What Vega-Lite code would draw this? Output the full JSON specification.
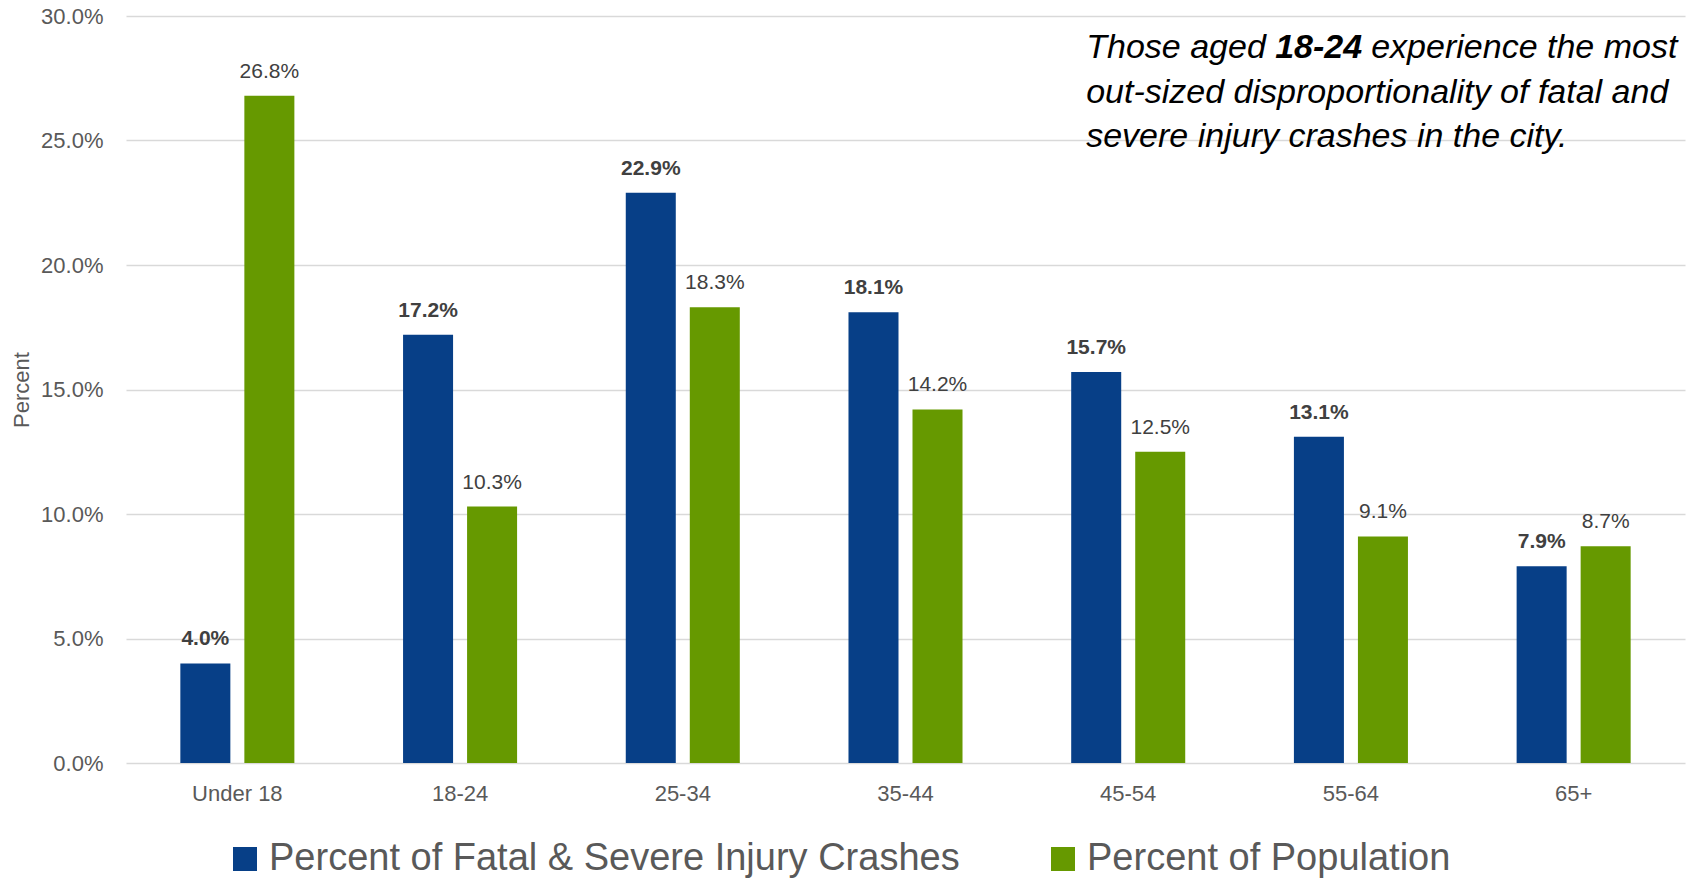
{
  "$schema": "https://vega.github.io/schema/vega-lite/v6.json",
  "width": 1559,
  "height": 747,
  "autosize": {"type": "none"},
  "padding": {"left": 126, "top": 16, "right": 6, "bottom": 117},
  "background": "white",
  "config": {"font": "Liberation Sans", "view": {"stroke": null}},
  "datasets": {
    "bars": [
      {"age": "Under 18", "series": "Percent of Fatal & Severe Injury Crashes", "value": 0.040},
      {"age": "18-24", "series": "Percent of Fatal & Severe Injury Crashes", "value": 0.172},
      {"age": "25-34", "series": "Percent of Fatal & Severe Injury Crashes", "value": 0.229},
      {"age": "35-44", "series": "Percent of Fatal & Severe Injury Crashes", "value": 0.181},
      {"age": "45-54", "series": "Percent of Fatal & Severe Injury Crashes", "value": 0.157},
      {"age": "55-64", "series": "Percent of Fatal & Severe Injury Crashes", "value": 0.131},
      {"age": "65+", "series": "Percent of Fatal & Severe Injury Crashes", "value": 0.079},
      {"age": "Under 18", "series": "Percent of Population", "value": 0.268},
      {"age": "18-24", "series": "Percent of Population", "value": 0.103},
      {"age": "25-34", "series": "Percent of Population", "value": 0.183},
      {"age": "35-44", "series": "Percent of Population", "value": 0.142},
      {"age": "45-54", "series": "Percent of Population", "value": 0.125},
      {"age": "55-64", "series": "Percent of Population", "value": 0.091},
      {"age": "65+", "series": "Percent of Population", "value": 0.087}
    ],
    "note1": [{"t": "Those aged"}],
    "note2": [{"t": "18-24"}],
    "note3": [{"t": "experience the most"}],
    "note4": [{"t": "out-sized disproportionality of fatal and"}],
    "note5": [{"t": "severe injury crashes in the city."}]
  },
  "layer": [
    {
      "data": {"name": "bars"},
      "encoding": {
        "x": {
          "field": "age", "type": "nominal",
          "sort": ["Under 18", "18-24", "25-34", "35-44", "45-54", "55-64", "65+"],
          "scale": {"paddingInner": 0.488, "paddingOuter": 0.244},
          "axis": {"title": null, "labelAngle": 0, "ticks": false, "domain": false, "labelPadding": 20, "labelFontSize": 22, "labelColor": "#595959"}
        },
        "y": {
          "field": "value", "type": "quantitative",
          "scale": {"domain": [0, 0.3], "nice": false},
          "axis": {"title": "Percent", "format": ".1%", "values": [0, 0.05, 0.1, 0.15, 0.2, 0.25, 0.3], "ticks": false, "domain": false, "labelPadding": 23, "labelFontSize": 22, "labelColor": "#595959", "gridColor": "#d9d9d9", "gridWidth": 1.6, "titleFontSize": 22, "titleFontWeight": "normal", "titleColor": "#595959", "titleAngle": 270, "titleX": -98, "titleY": 373.5, "titleAlign": "center", "titleBaseline": "alphabetic"}
        },
        "xOffset": {"field": "series", "type": "nominal", "sort": ["Percent of Fatal & Severe Injury Crashes", "Percent of Population"], "scale": {"paddingInner": 0.21875, "paddingOuter": 0}}
      },
      "layer": [
        {
          "mark": {"type": "bar"},
          "encoding": {
            "color": {
              "field": "series", "type": "nominal",
              "scale": {"domain": ["Percent of Fatal & Severe Injury Crashes", "Percent of Population"], "range": ["#073f87", "#669900"]},
              "legend": {"title": null, "orient": "none", "legendX": 100, "legendY": 824, "direction": "horizontal", "columns": 2, "symbolType": "square", "symbolSize": 576, "symbolStrokeWidth": 0, "labelFontSize": 38, "labelColor": "#595959", "labelOffset": 5, "columnPadding": 84, "labelLimit": 1000, "padding": 0}
            }
          }
        },
        {
          "transform": [{"filter": "datum.series === 'Percent of Fatal & Severe Injury Crashes'"}],
          "mark": {"type": "text", "baseline": "alphabetic", "dy": -18, "fontSize": 21, "fontWeight": "bold", "color": "#404040"},
          "encoding": {"text": {"field": "value", "type": "quantitative", "format": ".1%"}}
        },
        {
          "transform": [{"filter": "datum.series === 'Percent of Population'"}],
          "mark": {"type": "text", "baseline": "alphabetic", "dy": -18, "fontSize": 21, "color": "#404040"},
          "encoding": {"text": {"field": "value", "type": "quantitative", "format": ".1%"}}
        }
      ]
    },
    {
      "data": {"name": "note1"},
      "mark": {"type": "text", "align": "left", "baseline": "alphabetic", "fontSize": 34, "fontStyle": "italic", "color": "#000000", "dx": -42},
      "encoding": {"x": {"datum": "45-54", "type": "nominal"}, "y": {"datum": 0.2830, "type": "quantitative"}, "text": {"field": "t", "type": "nominal"}}
    },
    {
      "data": {"name": "note2"},
      "mark": {"type": "text", "align": "left", "baseline": "alphabetic", "fontSize": 34, "fontStyle": "italic", "fontWeight": "bold", "color": "#000000", "dx": 147},
      "encoding": {"x": {"datum": "45-54", "type": "nominal"}, "y": {"datum": 0.2830, "type": "quantitative"}, "text": {"field": "t", "type": "nominal"}}
    },
    {
      "data": {"name": "note3"},
      "mark": {"type": "text", "align": "left", "baseline": "alphabetic", "fontSize": 34, "fontStyle": "italic", "color": "#000000", "dx": 243},
      "encoding": {"x": {"datum": "45-54", "type": "nominal"}, "y": {"datum": 0.2830, "type": "quantitative"}, "text": {"field": "t", "type": "nominal"}}
    },
    {
      "data": {"name": "note4"},
      "mark": {"type": "text", "align": "left", "baseline": "alphabetic", "fontSize": 34, "fontStyle": "italic", "color": "#000000", "dx": -42},
      "encoding": {"x": {"datum": "45-54", "type": "nominal"}, "y": {"datum": 0.2652, "type": "quantitative"}, "text": {"field": "t", "type": "nominal"}}
    },
    {
      "data": {"name": "note5"},
      "mark": {"type": "text", "align": "left", "baseline": "alphabetic", "fontSize": 34, "fontStyle": "italic", "color": "#000000", "dx": -42},
      "encoding": {"x": {"datum": "45-54", "type": "nominal"}, "y": {"datum": 0.2473, "type": "quantitative"}, "text": {"field": "t", "type": "nominal"}}
    }
  ]
}
